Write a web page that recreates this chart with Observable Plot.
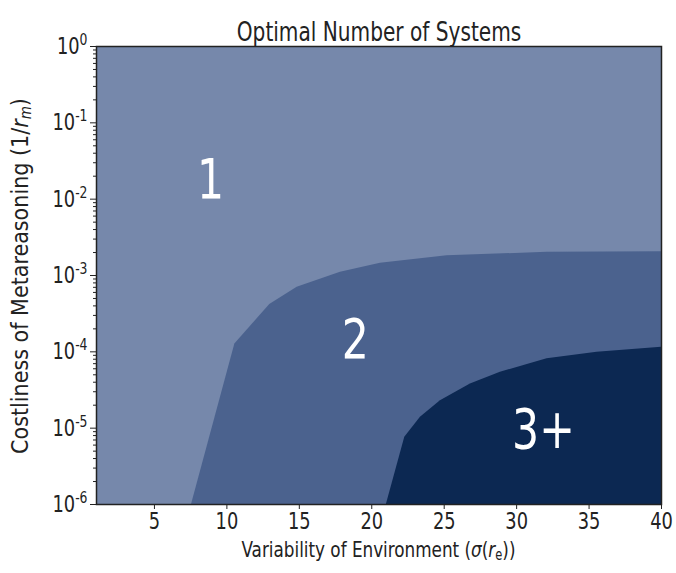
<!DOCTYPE html>
<html><head><meta charset="utf-8">
<script src="https://cdn.jsdelivr.net/npm/d3@7"></script>
<script src="https://cdn.jsdelivr.net/npm/@observablehq/plot@0.6"></script>
<style>body{margin:0;background:#fff}</style>
</head><body><div id="chart"></div>
<script>
const titleText = "Optimal Number of Systems";
const xLabelParts = ["Variability of Environment (", "σ", "(", "r", "e", "))"];
const yLabelParts = ["Costliness of Metareasoning (1/", "r", "m", ")"];
// boundary between region 1 and 2
const b12X = [7.56, 10.55, 12.96, 14.85, 17.84, 20.6, 25.2, 32.1, 40];
const b12Y = [1e-6, 1.27e-4, 4.16e-4, 7.0e-4, 1.10e-3, 1.45e-3, 1.82e-3, 2.01e-3, 2.05e-3];
// boundary between region 2 and 3+
const b23X = [21.01, 22.28, 23.36, 24.74, 26.81, 28.88, 32.1, 35.55, 40];
const b23Y = [1e-6, 7.6e-6, 1.39e-5, 2.29e-5, 3.8e-5, 5.4e-5, 8.1e-5, 9.9e-5, 1.15e-4];
const regionLabels = ["1", "2", "3+"];
const regionLabelX = [8.87, 18.87, 31.85];
const regionLabelY = [1.75e-2, 1.40e-4, 9.3e-6];
const xTicks = [5, 10, 15, 20, 25, 30, 35, 40];
const yDecades = [1e-6, 1e-5, 1e-4, 1e-3, 1e-2, 1e-1, 1];
const yDecadeExponents = ["-6", "-5", "-4", "-3", "-2", "-1", "0"];

const colors = ["#7688ab", "#4b628e", "#0c2852"];
const FONT = "'Liberation Sans Narrow', 'DejaVu Sans Condensed', sans-serif";

const region2 = b12X.map((x, i) => ({x, y: b12Y[i]}));
const region3 = b23X.map((x, i) => ({x, y: b23Y[i]}));
const labels = regionLabels.map((t, i) => ({t, x: regionLabelX[i], y: regionLabelY[i]}));
const yMinor = [];
for (let e = -6; e < 0; e++) for (let k = 2; k <= 9; k++) yMinor.push(k * Math.pow(10, e));

const plot = Plot.plot({
  width: 676, height: 573,
  marginTop: 46, marginBottom: 69, marginLeft: 96, marginRight: 15,
  style: {fontFamily: FONT, fontSize: "23px", background: "#fff", color: "#222"},
  x: {domain: [1, 40], label: null},
  y: {type: "log", domain: [1e-6, 1], label: null},
  marks: [
    Plot.frame({fill: colors[0]}),
    Plot.areaY(region2, {x: "x", y1: 1e-6, y2: "y", fill: colors[1]}),
    Plot.areaY(region3, {x: "x", y1: 1e-6, y2: "y", fill: colors[2]}),
    Plot.text(labels, {x: "x", y: "y", text: "t", fill: "white", fontSize: 55}),
    Plot.axisX({ticks: xTicks, tickSize: 5, tickPadding: 3, label: null, fontSize: 23}),
    Plot.axisY({ticks: yMinor, tickSize: 3, tickFormat: () => "", label: null}),
    Plot.axisY({ticks: yDecades, tickSize: 6, tickPadding: 3, label: null, fontSize: 23,
      tickFormat: (d) => "10^" + yDecadeExponents[yDecades.indexOf(d)]}),
    Plot.frame({stroke: "#222", strokeWidth: 1.5}),
    Plot.text([titleText], {frameAnchor: "top", dy: -24, fontSize: 26, fill: "#222"})
  ]
});
document.getElementById("chart").append(plot);

// power-of-ten labels: base plus raised exponent
plot.querySelectorAll("text").forEach(t => {
  const s = t.textContent;
  if (/^10\^/.test(s)) {
    const exp = s.slice(3);
    t.textContent = "10";
    const sup = document.createElementNS("http://www.w3.org/2000/svg", "tspan");
    sup.setAttribute("dy", "-9");
    sup.setAttribute("font-size", "16");
    sup.textContent = exp;
    t.appendChild(sup);
  }
});

// narrow the glyphs to mimic the reference's condensed face
plot.querySelectorAll("text").forEach(t => {
  const len = t.getComputedTextLength();
  if (len > 0) {
    t.setAttribute("textLength", (len * 0.86).toFixed(2));
    t.setAttribute("lengthAdjust", "spacingAndGlyphs");
  }
});

const svg = d3.select(plot);
const xl = svg.append("text").attr("transform", "translate(378.5,557) scale(0.85,1)")
  .attr("text-anchor", "middle").attr("font-size", 22).attr("fill", "#222")
  .attr("font-family", FONT);
xl.append("tspan").text(xLabelParts[0]);
xl.append("tspan").attr("font-style", "italic").text(xLabelParts[1]);
xl.append("tspan").text(xLabelParts[2]);
xl.append("tspan").attr("font-style", "italic").text(xLabelParts[3]);
xl.append("tspan").attr("font-size", 15).attr("dy", 3).text(xLabelParts[4]);
xl.append("tspan").attr("dy", -3).text(xLabelParts[5]);

const yl = svg.append("text").attr("transform", "translate(28,276) rotate(-90)")
  .attr("text-anchor", "middle").attr("font-size", 23).attr("fill", "#222")
  .attr("font-family", FONT);
yl.append("tspan").text(yLabelParts[0]);
yl.append("tspan").attr("font-style", "italic").text(yLabelParts[1]);
yl.append("tspan").attr("font-style", "italic").attr("font-size", 15).attr("dy", 3).text(yLabelParts[2]);
yl.append("tspan").attr("dy", -3).text(yLabelParts[3]);
</script>
</body></html>
